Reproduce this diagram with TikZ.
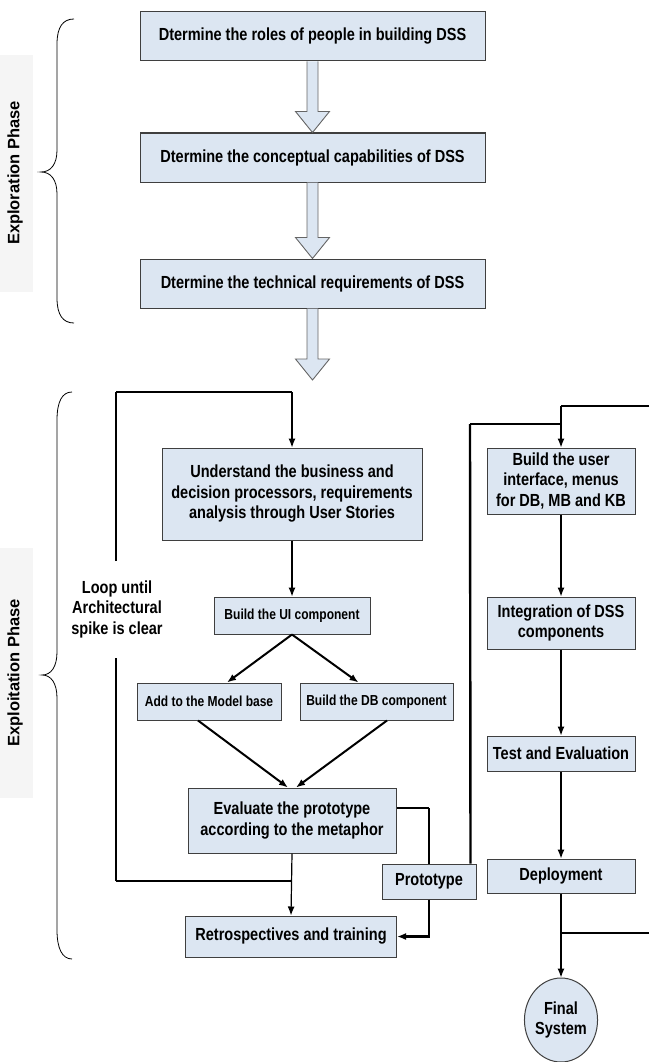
\documentclass[tikz,border=0pt]{standalone}
\usepackage{fontspec}
\newfontfamily\narf{Liberation Sans}[FakeStretch=0.83]
\newfontfamily\arlf{Liberation Sans}
\usetikzlibrary{arrows.meta,calc,shapes.geometric}
\definecolor{boxfill}{HTML}{DCE6F2}
\definecolor{boxdraw}{HTML}{3F3F3F}
\definecolor{lblfill}{HTML}{F5F5F5}
\begin{document}
\begin{tikzpicture}[x=1pt,y=-1pt,
  box/.style={draw=boxdraw,fill=boxfill,line width=1pt,inner sep=0pt,align=center,
    font=\narf\bfseries\fontsize{17.5}{20.5}\selectfont},
  sbox/.style={box,font=\narf\bfseries\fontsize{14.5}{17}\selectfont},
  thin line/.style={line width=1.2pt},
  thk/.style={line width=2.4pt},
  tip/.style={-{Latex[length=9pt,width=7pt]}},
  conn/.style={thin line,tip},
  diag/.style={line width=2pt,tip},
  blk/.style={draw=boxdraw!80,fill=boxfill,line width=0.9pt,line join=miter},
  brace/.style={draw=black,line width=0.8pt},
  phase/.style={font=\arlf\bfseries\fontsize{16.5}{19}\selectfont,rotate=90,inner sep=0pt}
]
\useasboundingbox (0,0) rectangle (649,1062);

% phase labels
\fill[lblfill] (0,55) rectangle (33,292);
\node[phase] (explab) at (15,173) {Exploration Phase};
\fill[lblfill] (0,548) rectangle (33,798);
\node[phase] (exploitlab) at (15,673) {Exploitation Phase};

% braces
\draw[brace] (74,19) .. controls (63,19) and (57,27) .. (57,44) -- (57,150)
  .. controls (57,164) and (51,172) .. (41,172)
  .. controls (51,172) and (57,180) .. (57,194) -- (57,298)
  .. controls (57,315) and (63,323) .. (74,323);
\draw[brace] (72,392) .. controls (62,392) and (57,402) .. (57,420) -- (57,652)
  .. controls (57,667) and (51,675) .. (42,675)
  .. controls (51,675) and (57,683) .. (57,698) -- (57,930)
  .. controls (57,948) and (62,959) .. (72,959);

% exploration boxes
\node[box,minimum width=345,minimum height=49] (b1) at (312.5,36.5) {Dtermine the roles of people in building DSS};
\node[box,minimum width=345,minimum height=49] (b2) at (312.5,157.5) {Dtermine the conceptual capabilities of DSS};
\node[box,minimum width=345,minimum height=49] (b3) at (312.5,283.5) {Dtermine the technical requirements of DSS};
\coordinate (tip3) at (312.5,380);

% block arrows
\draw[blk] let \p1=(b1.south), \p2=(b2.north) in
  (\x1-5.5pt,\y1) -- (\x1-5.5pt,\y2+21pt) -- (\x1-17pt,\y2+21pt) -- (\x1,\y2)
  -- (\x1+17pt,\y2+21pt) -- (\x1+5.5pt,\y2+21pt) -- (\x1+5.5pt,\y1);
\draw[blk] let \p1=(b2.south), \p2=(b3.north) in
  (\x1-5.5pt,\y1) -- (\x1-5.5pt,\y2+21pt) -- (\x1-17pt,\y2+21pt) -- (\x1,\y2)
  -- (\x1+17pt,\y2+21pt) -- (\x1+5.5pt,\y2+21pt) -- (\x1+5.5pt,\y1);
\draw[blk] let \p1=(b3.south), \p2=(tip3) in
  (\x1-5.5pt,\y1) -- (\x1-5.5pt,\y2+21pt) -- (\x1-17pt,\y2+21pt) -- (\x1,\y2)
  -- (\x1+17pt,\y2+21pt) -- (\x1+5.5pt,\y2+21pt) -- (\x1+5.5pt,\y1);

% exploitation boxes, left column
\node[box,minimum width=260,minimum height=92] (und) at (292,494)
  {Understand the business and\\decision processors, requirements\\analysis through User Stories};
\node[sbox,minimum width=156,minimum height=37] (ui) at (292,615.5) {Build the UI component};
\node[sbox,minimum width=144,minimum height=37] (add) at (209,701.5) {Add to the Model base};
\node[sbox,minimum width=153,minimum height=37] (db) at (376.5,701.5) {Build the DB component};
\node[box,minimum width=208,minimum height=65] (eval) at (292,820.5)
  {Evaluate the prototype\\according to the metaphor};
\node[box,minimum width=211,minimum height=41] (retro) at (291,936.5) {Retrospectives and training};
\node[box,minimum width=94,minimum height=35] (proto) at (429,881.5) {Prototype};

% right column
\node[box,minimum width=148,minimum height=66] (bui) at (561,481)
  {Build the user\\interface, menus\\for DB, MB and KB};
\node[box,minimum width=148,minimum height=52] (integ) at (561,623)
  {Integration of DSS\\components};
\node[box,minimum width=148,minimum height=35] (test) at (561,753.5) {Test and Evaluation};
\node[box,minimum width=148,minimum height=34] (dep) at (561,876) {Deployment};
\node[box,ellipse,minimum width=72,minimum height=84] (final) at (561,1020) {Final\\System};

% loop label
\node[font=\narf\bfseries\fontsize{17.5}{20.5}\selectfont,align=center,inner sep=0pt] (loop) at (117,609)
  {Loop until\\Architectural\\spike is clear};

% coordinates
\coordinate (lt) at (116,392);
\coordinate (ltr) at (292,392);
\coordinate (lm2) at (116,561);
\coordinate (lm1) at (116,658);
\coordinate (lb) at (116,881);
\coordinate (lj) at (292,881);
\coordinate (ec) at (429,808);
\coordinate (pt) at (470,424);
\coordinate (pr) at (561,424);
\coordinate (rt) at (561,406);
\coordinate (re1) at (649,406);
\coordinate (dj) at (561,933);
\coordinate (re2) at (649,933);

% left loop
\draw[thin line] (lj) -- (lb);
\draw[thk] (lb) -- (lm1);
\draw[thk] (lm2) -- (lt);
\draw[thin line] (lt) -- (ltr);
\draw[conn] (ltr) -- (und.north);

% main flow
\draw[conn] (und.south) -- (ui.north);
\draw[diag] (ui.south) -- ([xshift=18pt]add.north);
\draw[diag] (ui.south) -- ([xshift=-18pt]db.north);
\draw[diag] ([xshift=-11pt]add.south) -- ([xshift=-4pt]eval.north);
\draw[diag] ([xshift=10.5pt]db.south) -- ([xshift=4pt]eval.north);
\draw[conn] (eval.south) -- (retro.north);

% prototype links
\draw[thin line] ([yshift=12.5pt]eval.east) -- (ec);
\draw[thk] (ec) -- (proto.north);
\draw[thk,tip] (proto.south) -- (proto.south |- retro.east) -- (retro.east);
\draw[thk] ([xshift=-6pt]proto.north east) -- (pt);
\draw[thin line] (pt) -- (pr);

% right column flow
\draw[thin line] (re1) -- (rt);
\draw[conn] (rt) -- (bui.north);
\draw[conn] (bui.south) -- (integ.north);
\draw[conn] (integ.south) -- (test.north);
\draw[conn] (test.south) -- (dep.north);
\draw[conn] (dep.south) -- (final.north);
\draw[thin line] (dj) -- (re2);
\end{tikzpicture}
\end{document}
